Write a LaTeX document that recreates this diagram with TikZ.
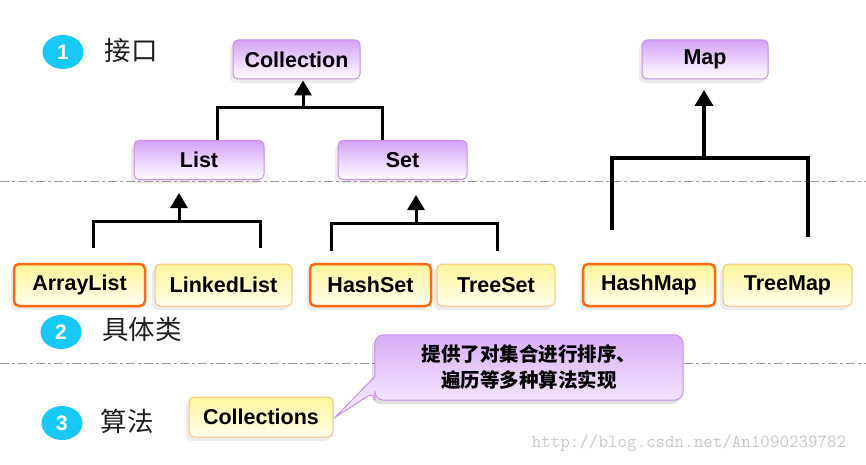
\documentclass[tikz,border=0pt]{standalone}
\usepackage{fontspec}
\setmainfont{Liberation Sans}
\newfontfamily\cjk{Noto Sans CJK SC}
\usetikzlibrary{arrows.meta,shapes.geometric,shadows,backgrounds}
\definecolor{purptop}{HTML}{D3A3F7}
\definecolor{purpborder}{HTML}{C98FE6}
\definecolor{calltop}{HTML}{C88CF2}
\definecolor{yeltop}{HTML}{FFF59A}
\definecolor{yelbot}{HTML}{FFFFEE}
\definecolor{orlight}{HTML}{FFBE80}
\definecolor{ordeep}{HTML}{FF6A10}
\definecolor{numcyan}{HTML}{18C8F5}
\definecolor{dashgray}{HTML}{9A9A9A}
\pgfdeclareverticalshading{callsh}{100bp}{color(0bp)=(white); color(22bp)=(white!92!calltop); color(100bp)=(calltop)}
\tikzset{
  boxbase/.style={rounded corners=5pt, minimum height=39pt,
    font=\bfseries\fontsize{21.5}{24}\selectfont,
    drop shadow={opacity=0.15, shadow xshift=-3pt, shadow yshift=-4pt}},
  iface/.style={boxbase, draw=purpborder, line width=1pt, top color=purptop, bottom color=white},
  impl/.style={boxbase, draw=orlight, line width=1pt, top color=yeltop, bottom color=yelbot, minimum height=42pt},
  implhl/.style={impl, draw=ordeep, line width=2.5pt},
  num/.style={ellipse, fill=numcyan, minimum width=41pt, minimum height=34pt, inner sep=0pt,
    text=white, font=\bfseries\fontsize{21}{21}\selectfont},
  sect/.style={font=\cjk\fontsize{26.5}{26}\selectfont, text=black!88},
  tree/.style={line width=3pt, black},
  treearrow/.style={tree, -{Triangle[width=17pt,length=15pt]}},
  maptree/.style={line width=3.8pt, black},
  maparrow/.style={maptree, -{Triangle[width=18pt,length=16pt]}},
  sepline/.style={dashgray, line width=1pt, dash pattern=on 9pt off 3pt on 3pt off 3pt}
}
\begin{document}
\begin{tikzpicture}[x=1pt,y=-1pt]
\useasboundingbox (0,0) rectangle (866,465);

% separators (behind everything)
\coordinate (s1a) at (0,181); \coordinate (s1b) at (866,181);
\coordinate (s2a) at (0,363); \coordinate (s2b) at (866,363);
\begin{scope}[on background layer]
\draw[sepline] (s1a) -- (s1b);
\draw[sepline] (s2a) -- (s2b);
\end{scope}

% section markers
\node[num] (n1) at (63,52) {1};
\node[sect] (t1) at (131,50) {接口};
\node[num] (n2) at (61,332) {2};
\node[sect] (t2) at (142,329) {具体类};
\node[num] (n3) at (62,423) {3};
\node[sect] (t3) at (127,421) {算法};

% interfaces
\node[iface, minimum width=127pt] (coll) at (296.5,59.5) {Collection};
\node[iface, minimum width=130pt] (list) at (199,160) {List};
\node[iface, minimum width=129pt] (set) at (402.5,160) {Set};
\node[iface, minimum width=126pt] (map) at (705,59.5) {Map};

% implementations
\node[implhl, minimum width=131pt] (arr) at (79.5,285) {ArrayList};
\node[impl, minimum width=137pt] (linked) at (223.5,285) {LinkedList};
\node[implhl, minimum width=121pt] (hset) at (370.5,285) {HashSet};
\node[impl, minimum width=118pt] (tset) at (496,285) {TreeSet};
\node[implhl, minimum width=132pt] (hmap) at (649,285) {HashMap};
\node[impl, minimum width=129pt] (tmap) at (787.5,285) {TreeMap};

% Collection tree
\coordinate (j1) at (303,108);
\draw[tree] ([xshift=18pt]list.north) |- (j1) -| ([xshift=-20pt]set.north);
\draw[treearrow] (j1) -- ([xshift=6.5pt,yshift=-1pt]coll.south);

% List tree
\coordinate (j2) at (179,221);
\coordinate (l1) at (93,248);
\coordinate (l2) at (260,248);
\coordinate (lt) at (179,193);
\draw[tree] (l1) |- (j2) -| (l2);
\draw[treearrow] (j2) -- (lt);

% Set tree
\coordinate (j3) at (416,223);
\coordinate (s1) at (331,251);
\coordinate (s2) at (497,251);
\coordinate (st) at (416,195);
\draw[tree] (s1) |- (j3) -| (s2);
\draw[treearrow] (j3) -- (st);

% Map tree
\coordinate (j4) at (704,158);
\coordinate (m1) at (612,230);
\coordinate (m2) at (808,237);
\coordinate (mt) at (704,90);
\draw[maptree] (m1) |- (j4) -| (m2);
\draw[maparrow] (j4) -- (mt);

% algorithms
\node[impl, minimum width=144pt, minimum height=40pt] (colls) at (261,417) {Collections};

\node[font=\cjk\bfseries\fontsize{19.5}{26}\selectfont, align=center,
      minimum width=308pt, minimum height=65pt, inner sep=0pt] (note) at (529,367.5)
  {提供了对集合进行排序、\\遍历等多种算法实现};
\begin{scope}[on background layer]
\coordinate (cbA) at ([yshift=-24pt]note.west);
\coordinate (cbB) at ([yshift=-9pt]note.west);
\fill[black, opacity=0.12, rounded corners=9pt]
  ([xshift=-3pt,yshift=-4pt]note.north west) rectangle ([xshift=-3pt,yshift=-4pt]note.south east);
\draw[purpborder, line width=1pt, shading=callsh, rounded corners=9pt]
  (note.north west) -- (note.north east) -- (note.south east) -- (note.south west)
  -- (cbA) [sharp corners] -- ([xshift=2pt]colls.east) -- (cbB) [rounded corners=9pt] -- cycle;
\end{scope}

% watermark
\node[font=\ttfamily\fontsize{18.5}{20}\selectfont, text=black!22, inner sep=0pt] (wm) at (689,443)
  {http://blog.csdn.net/An1090239782};
\end{tikzpicture}
\end{document}
